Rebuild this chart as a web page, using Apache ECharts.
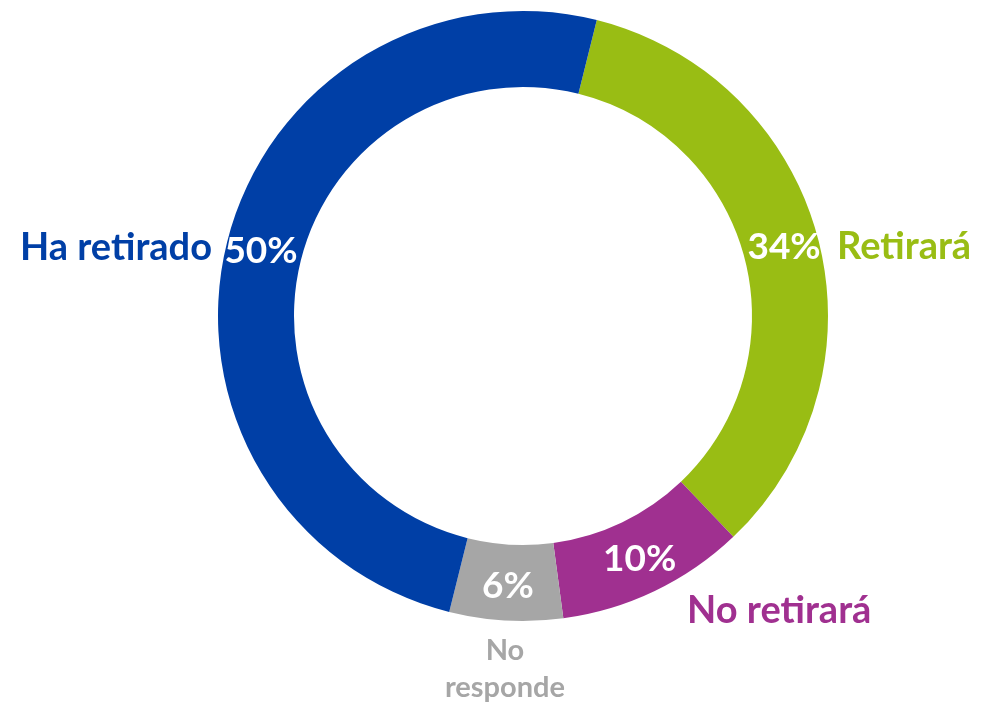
<!DOCTYPE html>
<html>
<head>
<meta charset="utf-8">
<script src="https://cdn.jsdelivr.net/npm/echarts@6/dist/echarts.min.js"></script>
<style>
html,body{margin:0;padding:0;background:#fff;}
#c{width:986px;height:703px;}
</style>
</head>
<body>
<div id="c"></div>
<script>
// Data
const categories = ['Retirará', 'No retirará', 'No responde', 'Ha retirado'];
const labelTexts = ['Retirará', 'No retirará', 'No\nresponde', 'Ha retirado'];
const values = [34, 10, 6, 50];

// Styles
const colors = ['#99BD14', '#A03090', '#A6A6A6', '#003FA6'];
const FONT = 'Lato, "Liberation Sans", sans-serif';
// outer label anchor positions (x, y, align)
const nameLabelPos = [
  {x: 837, y: 247, align: 'left'},
  {x: 687, y: 611, align: 'left'},
  {x: 505, y: 669, align: 'center'},
  {x: 212, y: 248, align: 'right'}
];
const nameFontSize = [38, 38, 29, 38];

const pieData = categories.map((c, i) => ({
  name: c,
  value: values[i],
  itemStyle: {color: colors[i]}
}));
const nameData = categories.map((c, i) => ({
  name: c,
  value: values[i],
  label: {
    color: colors[i],
    fontSize: nameFontSize[i],
    lineHeight: i === 2 ? 37 : nameFontSize[i] + 4,
    align: nameLabelPos[i].align,
    formatter: labelTexts[i]
  }
}));

const chart = echarts.init(document.getElementById('c'), null, {renderer: 'canvas'});
chart.setOption({
  animation: false,
  backgroundColor: '#ffffff',
  series: [
    {
      type: 'pie',
      center: [523, 316],
      radius: [229, 305],
      startAngle: 76,
      clockwise: true,
      avoidLabelOverlap: false,
      silent: true,
      data: pieData,
      label: {
        show: true,
        position: 'inside',
        formatter: '{c}%',
        color: '#ffffff',
        fontFamily: FONT,
        fontWeight: 'bold',
        fontSize: 37
      },
      labelLine: {show: false}
    },
    {
      type: 'pie',
      center: [523, 316],
      radius: [229, 305],
      startAngle: 76,
      clockwise: true,
      avoidLabelOverlap: false,
      silent: true,
      z: 1,
      itemStyle: {color: 'rgba(0,0,0,0)'},
      data: nameData,
      label: {
        show: true,
        position: 'outside',
        fontFamily: FONT,
        fontWeight: 'bold'
      },
      labelLine: {show: false},
      labelLayout: function (p) {
        const pos = nameLabelPos[p.dataIndex];
        return {x: pos.x, y: pos.y, align: pos.align, verticalAlign: 'middle', hideOverlap: false};
      }
    }
  ]
});
</script>
</body>
</html>
